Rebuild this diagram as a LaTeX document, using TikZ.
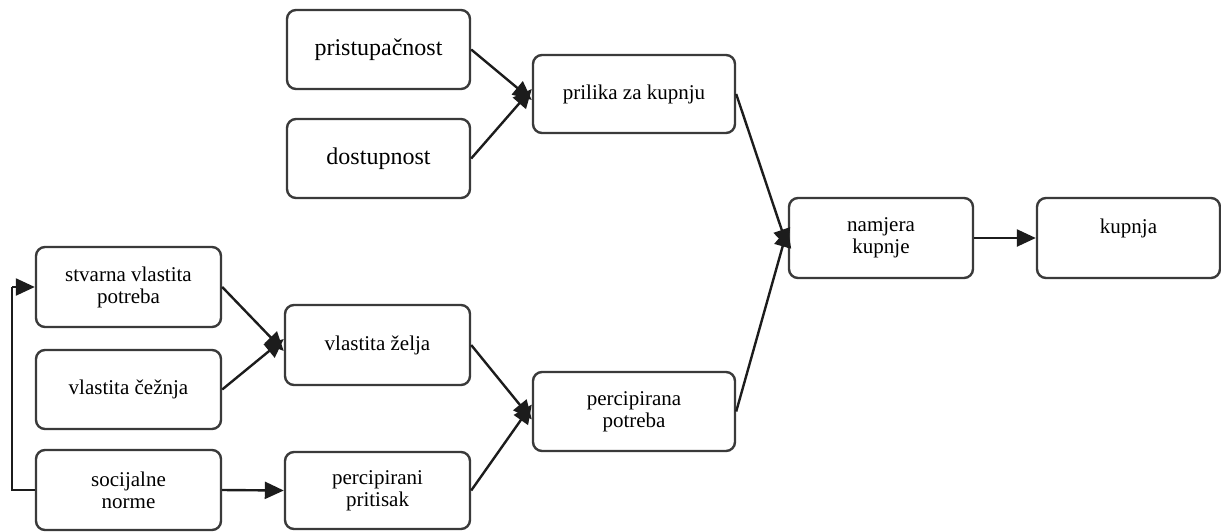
\documentclass[tikz,border=0pt]{standalone}
\usepackage{fontspec}
\setmainfont{Liberation Serif}
\usetikzlibrary{arrows.meta}
\definecolor{boxline}{HTML}{3A3A3A}
\definecolor{arrowline}{HTML}{1C1C1C}
\begin{document}
\begin{tikzpicture}[x=1pt,y=-1pt,
  box/.style={draw=boxline, line width=2.4pt, rounded corners=9pt, fill=white,
    align=center, inner sep=0pt, font=\fontsize{21}{22}\selectfont},
  bigtext/.style={font=\fontsize{24}{26}\selectfont},
  conn/.style={draw=arrowline, line width=2.4pt, -{Triangle[length=19pt,width=17pt]}},
  plain/.style={draw=arrowline, line width=2.4pt}
]
\useasboundingbox (0,0) rectangle (1221,531);

\node[box,bigtext, minimum width=183pt, minimum height=79pt] (prist) at (378.5,49.5) {pristupačnost};
\node[box,bigtext, minimum width=183pt, minimum height=79pt] (dost) at (378.5,158.5) {dostupnost};
\node[box, minimum width=202pt, minimum height=78pt] (prilika) at (634,94) {prilika za kupnju};
\node[box, minimum width=184pt, minimum height=80pt] (namjera) at (881,238) {namjera\\kupnje};
\node[box, minimum width=183pt, minimum height=80pt, text height=15pt, text depth=25pt] (kupnja) at (1128.5,238) {kupnja};
\node[box, minimum width=185pt, minimum height=80pt] (stvarna) at (128.5,287) {stvarna vlastita\\potreba};
\node[box, minimum width=185pt, minimum height=79pt] (ceznja) at (128.5,389.5) {vlastita čežnja};
\node[box, minimum width=185pt, minimum height=80pt] (norme) at (128.5,490) {socijalne\\norme};
\node[box, minimum width=185pt, minimum height=80pt] (zelja) at (377.5,345) {vlastita želja};
\node[box, minimum width=202pt, minimum height=79pt] (potreba) at (634,411.5) {percipirana\\potreba};
\node[box, minimum width=185pt, minimum height=77pt] (pritisak) at (377.5,490.5) {percipirani\\pritisak};

\coordinate (loopb) at (12,490);
\coordinate (loopt) at (12,287);

\draw[conn] (prist.east) -- ([yshift=-6pt]prilika.west);
\draw[conn] (dost.east) -- ([yshift=5pt]prilika.west);
\draw[conn] (prilika.east) -- ([yshift=-10pt]namjera.west);
\draw[conn] (potreba.east) -- ([yshift=10pt]namjera.west);
\draw[conn] (namjera.east) -- (kupnja.west);
\draw[conn] (stvarna.east) -- ([yshift=-6pt]zelja.west);
\draw[conn] (ceznja.east) -- ([yshift=6pt]zelja.west);
\draw[conn] (zelja.east) -- ([yshift=-8pt]potreba.west);
\draw[conn] (pritisak.east) -- ([yshift=7pt]potreba.west);
\draw[conn] (norme.east) -- (pritisak.west);
\draw[plain] (norme.west) -- (loopb) -- (loopt);
\draw[conn] (loopt) -- (stvarna.west);
\end{tikzpicture}
\end{document}
